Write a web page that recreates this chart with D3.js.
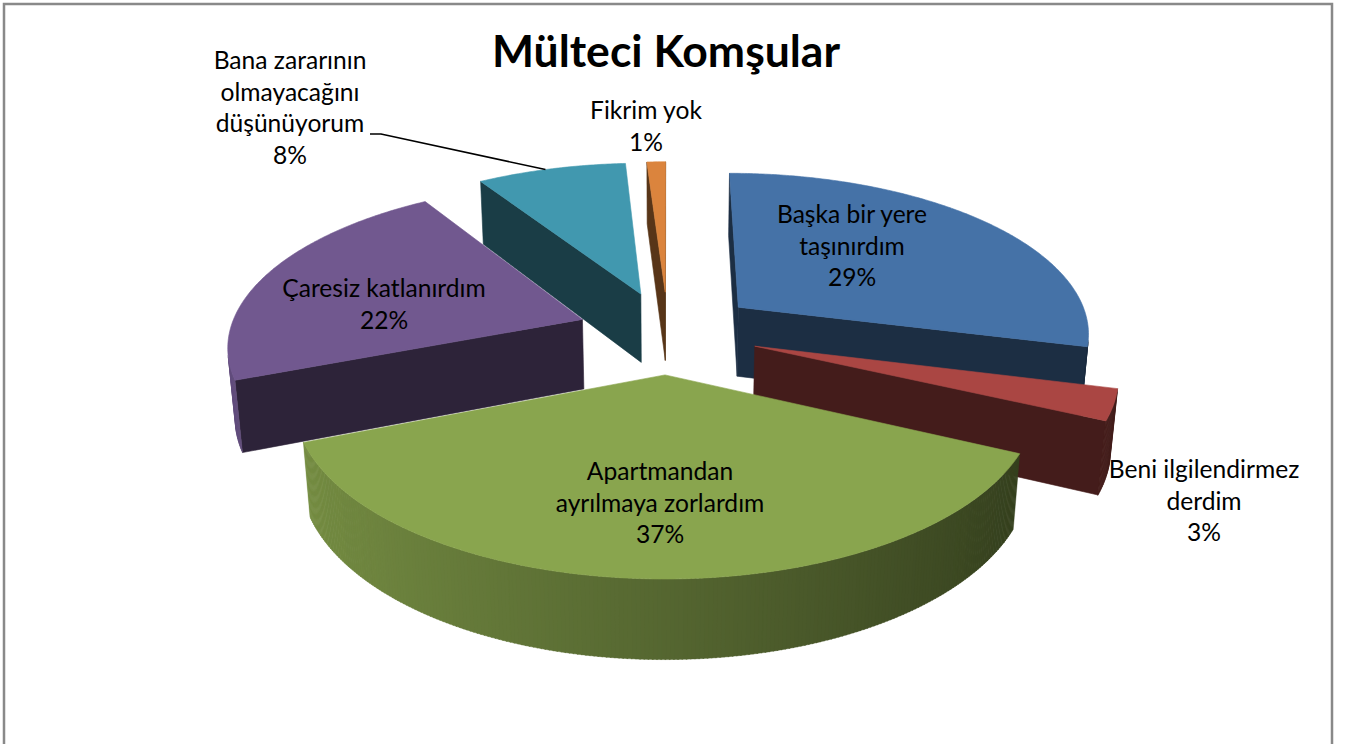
<!DOCTYPE html>
<html lang="tr">
<head>
<meta charset="UTF-8">
<script src="https://d3js.org/d3.v7.min.js"></script>
<style>
  body { margin: 0; background: #fff; }
  svg { display: block; }
  text { font-family: Lato, "Open Sans", sans-serif; fill: #000; }
</style>
</head>
<body>
<svg width="1347" height="744"></svg>
<script>
// data
var categories = ["Başka bir yere taşınırdım", "Beni ilgilendirmez derdim", "Apartmandan ayrılmaya zorlardım",
                  "Çaresiz katlanırdım", "Bana zararının olmayacağını düşünüyorum", "Fikrim yok"];
var values = [29, 3, 37, 22, 8, 1];
var labelLines = [["Başka bir yere", "taşınırdım"], ["Beni ilgilendirmez", "derdim"], ["Apartmandan", "ayrılmaya zorlardım"],
                  ["Çaresiz katlanırdım"], ["Bana zararının", "olmayacağını", "düşünüyorum"], ["Fikrim yok"]];
var colors = ["#4572A7", "#AA4643", "#89A54E", "#71588F", "#4198AF", "#DB843D"];
var title = "Mülteci Komşular";

// label layout: centre x and first baseline
var labelAt = [[852, 223], [1204, 478], [660, 480], [384, 297], [290, 69], [646, 119]];
var lineGap = 31.5;

var svg = d3.select("svg");

// frame
svg.append("rect").attr("x", 4).attr("y", 4).attr("width", 1328).attr("height", 800)
   .attr("fill", "#fff").attr("stroke", "#898989").attr("stroke-width", 2.5);

// 3d projection of the pie plane
var cx = 668, cy = 332, R = 353, H = 80, explode = 91, F = 2150;
var tilt = 27 * Math.PI / 180, S = Math.sin(tilt), C = Math.cos(tilt);
var cam = [0, -F * C, F * S];

function project(u, v, h) {
  var d = v * C - h * S;
  var s = F / (F + d);
  return [cx + u * s, cy - (v * S + h * C) * s];
}

var data = values.map(function(v, i) { return {name: categories[i], value: v, i: i}; });
var arcs = d3.pie().sort(null).value(function(d) { return d.value; })(data);

arcs.forEach(function(a) {
  var m = (a.startAngle + a.endAngle) / 2;
  a.mid = m;
  a.ou = explode * Math.sin(m);
  a.ov = explode * Math.cos(m);
  a.depth = a.ov + 0.5 * R * Math.cos(m);
});

function pt(a, t, r, h) {
  return project(a.ou + r * Math.sin(t), a.ov + r * Math.cos(t), h);
}
function facing(n, p) {
  return n[0] * (cam[0] - p[0]) + n[1] * (cam[1] - p[1]) + n[2] * (cam[2] - p[2]) > 0;
}
var line = d3.line();

var order = arcs.slice().sort(function(a, b) { return b.depth - a.depth; });

order.forEach(function(a) {
  var g = svg.append("g").attr("class", "slice");
  var base = colors[a.data.i];
  var dark = d3.interpolateRgb(base, "#000")(0.6);
  var a0 = a.startAngle, a1 = a.endAngle;
  var n = Math.max(2, Math.ceil((a1 - a0) / 0.01));
  var step = (a1 - a0) / n;

  // radial walls
  [[a0, [-Math.cos(a0), Math.sin(a0), 0]], [a1, [Math.cos(a1), -Math.sin(a1), 0]]].forEach(function(w) {
    var t = w[0];
    var p = [a.ou + R / 2 * Math.sin(t), a.ov + R / 2 * Math.cos(t), -H / 2];
    if (!facing(w[1], p)) return;
    var poly = [pt(a, t, 0, 0), pt(a, t, R, 0), pt(a, t, R, -H), pt(a, t, 0, -H)];
    g.append("path").attr("d", line(poly) + "Z").attr("fill", dark).attr("stroke", dark).attr("stroke-width", 0.6);
  });

  // outer wall, shaded by facing direction
  for (var k = 0; k < n; k++) {
    var t0 = a0 + k * step, t1 = t0 + step, tm = (t0 + t1) / 2;
    var nrm = [Math.sin(tm), Math.cos(tm), 0];
    var p = [a.ou + R * Math.sin(tm), a.ov + R * Math.cos(tm), -H / 2];
    if (!facing(nrm, p)) continue;
    var f = 0.62 + 0.25 * (-Math.sin(tm));
    var col = d3.interpolateRgb("#000", base)(Math.max(0.3, Math.min(1, f)));
    var quad = [pt(a, t0, R, 0), pt(a, t1 + step * 0.3, R, 0), pt(a, t1 + step * 0.3, R, -H), pt(a, t0, R, -H)];
    g.append("path").attr("d", line(quad) + "Z").attr("fill", col).attr("stroke", col).attr("stroke-width", 0.4);
  }

  // top face
  var top = [pt(a, a0, 0, 0)];
  for (var j = 0; j <= n; j++) top.push(pt(a, a0 + j * step, R, 0));
  g.append("path").attr("d", line(top) + "Z").attr("fill", base).attr("stroke", base).attr("stroke-width", 0.6);
});

// leader line for the small outside label
var teal = arcs[4];
var tip = pt(teal, teal.mid - 0.02, R, 0);
svg.append("path")
   .attr("d", line([[370, 134], [381, 134], tip]))
   .attr("fill", "none").attr("stroke", "#000").attr("stroke-width", 1.6);

// labels
arcs.forEach(function(a, i) {
  var lines = labelLines[i].concat([a.data.value + "%"]);
  var t = svg.append("text").attr("text-anchor", "middle").attr("font-size", 24.6);
  lines.forEach(function(s, k) {
    t.append("tspan").attr("x", labelAt[i][0]).attr("y", labelAt[i][1] + k * lineGap).text(s);
  });
});

// title
svg.append("text").attr("x", 666).attr("y", 67).attr("text-anchor", "middle")
   .attr("font-size", 44.5).attr("font-weight", "bold").text(title);
</script>
</body>
</html>
